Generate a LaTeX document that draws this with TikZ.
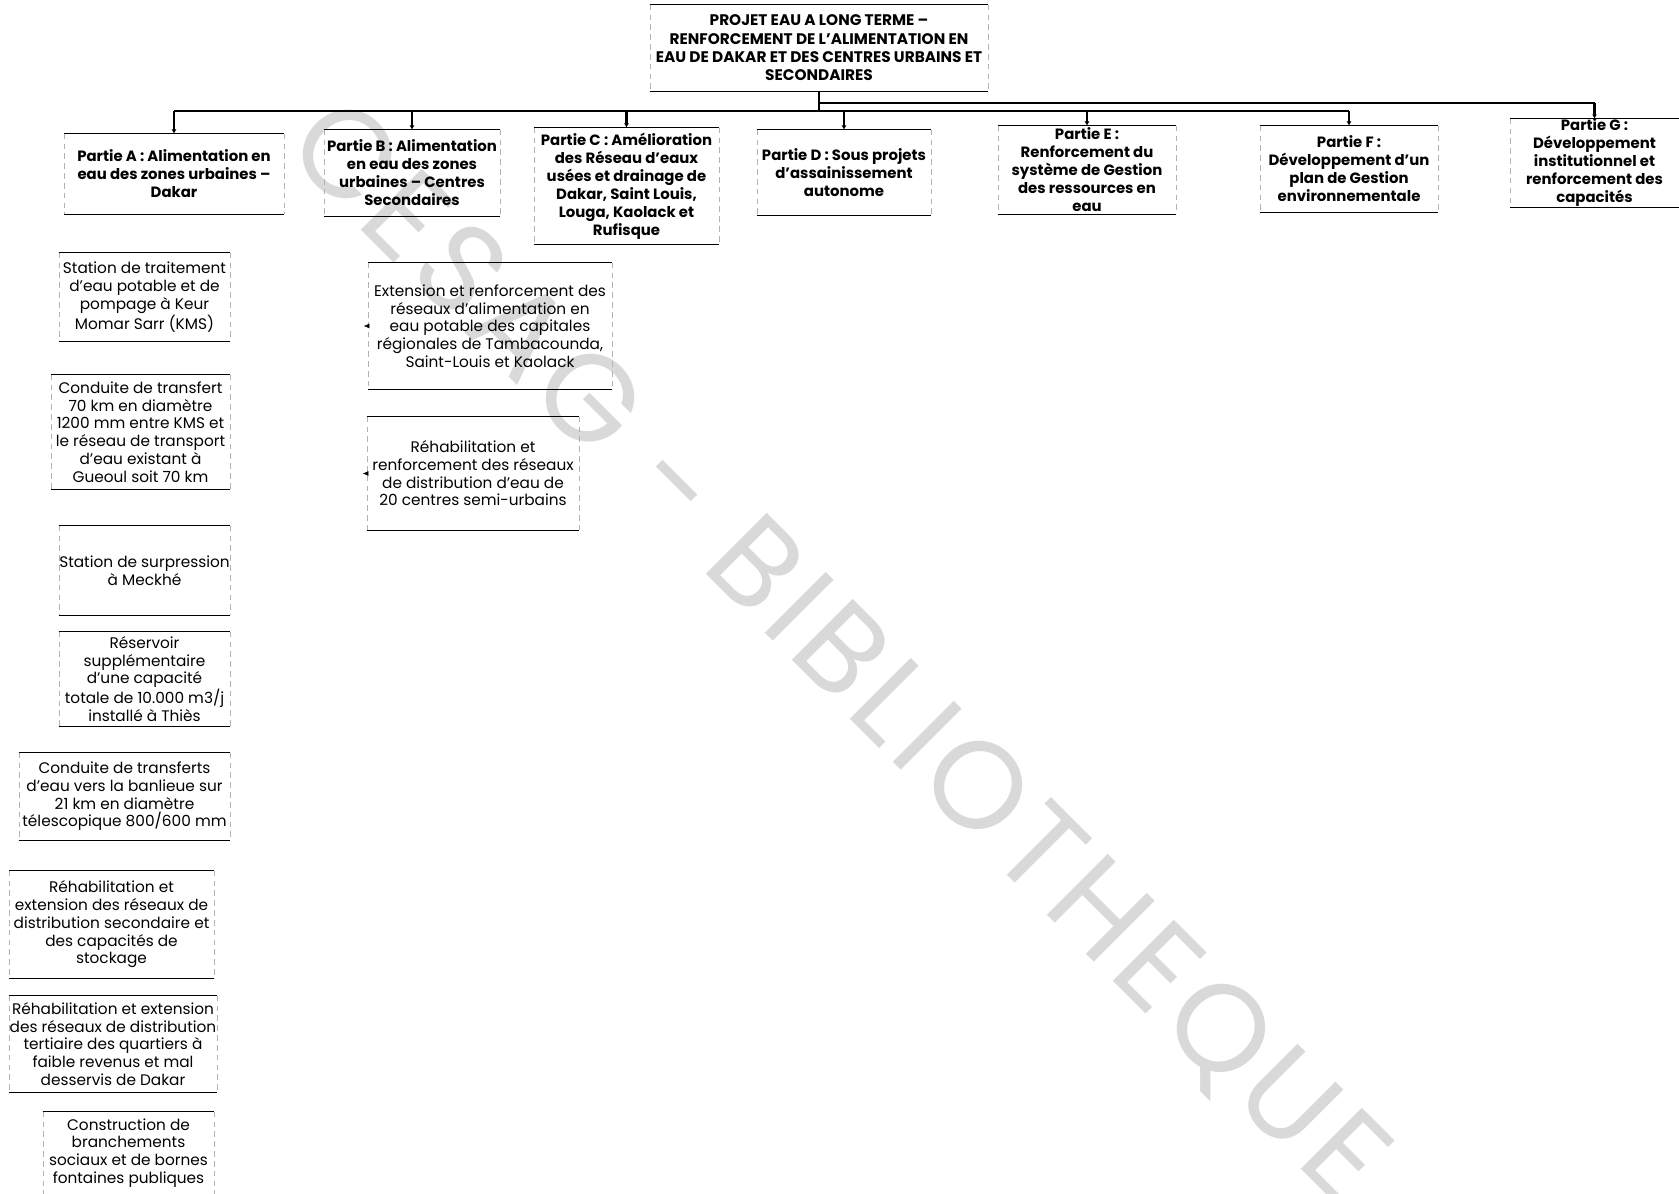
\documentclass[tikz,border=0pt]{standalone}
\usepackage{fontspec}
\setmainfont{Poppins}
\newfontfamily\wmfont[LetterSpace=6]{Poppins}
\usepackage{tikz}
\usetikzlibrary{arrows.meta,calc}
\definecolor{wmgray}{HTML}{D9D9D9}

\begin{document}
\begin{tikzpicture}[x=0.25mm,y=-0.25mm,>=Latex,every node/.style={inner sep=0pt,align=center},
box/.style 2 args={minimum width=#1mm,minimum height=#2mm},
hd/.style={font=\fontsize{10.9}{13}\selectfont\bfseries},
pt/.style={font=\fontsize{10.6}{12.8}\selectfont\bfseries},
sb/.style={font=\fontsize{10.9}{12.6}\selectfont},
rule/.style={line width=0.6pt},side/.style={black!30,line width=0.3pt,dash pattern=on 4pt off 3pt},
bus/.style={line width=1pt},tick/.style={line width=1.5pt,-{Latex[length=3pt,width=3.5pt]}},
tip/.style={line width=0.4pt,-{Latex[length=4pt,width=3.5pt]}}]
\useasboundingbox (0,0) rectangle (1679,1194);
\node[rotate=-45,text=wmgray,font=\wmfont\fontsize{88}{88}\selectfont] (wm) at (836,654) {CESAG - BIBLIOTHEQUE};
\node[hd,box={84.5}{21.5}] (top) at (819,48) {PROJET EAU A LONG TERME --\\RENFORCEMENT DE L'ALIMENTATION EN\\EAU DE DAKAR ET DES CENTRES URBAINS ET\\SECONDAIRES};
\node[pt,box={55}{20}] (pa) at (174,174) {Partie A : Alimentation en\\eau des zones urbaines --\\Dakar};
\node[pt,box={44}{21.5}] (pb) at (412,173) {Partie B : Alimentation\\en eau des zones\\urbaines -- Centres\\Secondaires};
\node[pt,box={46.25}{29}] (pc) at (626.5,186) {Partie C : Amélioration\\des Réseau d'eaux\\usées et drainage de\\Dakar, Saint Louis,\\Louga, Kaolack et\\Rufisque};
\node[pt,box={43.5}{21.25}] (pd) at (844,172.5) {Partie D : Sous projets\\d'assainissement\\autonome};
\node[pt,box={44.5}{22}] (pe) at (1087,170) {Partie E :\\Renforcement du\\système de Gestion\\des ressources en\\eau};
\node[pt,box={44.5}{21.5}] (pf) at (1349,169) {Partie F :\\Développement d'un\\plan de Gestion\\environnementale};
\node[pt,box={42.25}{21.5}] (pg) at (1594.5,163) {Partie G :\\Développement\\institutionnel et\\renforcement des\\capacités};
\node[sb,box={42.75}{22}] (a1) at (144.5,297) {Station de traitement\\d'eau potable et de\\pompage à Keur\\Momar Sarr (KMS)};
\node[sb,box={44.75}{28.5}] (a2) at (140.5,432) {Conduite de transfert\\70 km en diamètre\\1200 mm entre KMS et\\le réseau de transport\\d'eau existant à\\Gueoul soit 70 km};
\node[sb,box={42.75}{22.25}] (a3) at (144.5,570.5) {Station de surpression\\à Meckhé};
\node[sb,box={42.75}{23.5}] (a4) at (144.5,679) {Réservoir\\supplémentaire\\d'une capacité\\totale de 10.000 m3/j\\installé à Thiès};
\node[sb,box={52.75}{21.75}] (a5) at (124.5,796.5) {Conduite de transferts\\d'eau vers la banlieue sur\\21 km en diamètre\\télescopique 800/600 mm};
\node[sb,box={51.25}{26.75}] (a6) at (111.5,924.5) {Réhabilitation et\\extension des réseaux de\\distribution secondaire et\\des capacités de\\stockage};
\node[sb,box={52}{24}] (a7) at (113,1044) {Réhabilitation et extension\\des réseaux de distribution\\tertiaire des quartiers à\\faible revenus et mal\\desservis de Dakar};
\node[sb,box={42.75}{20.5}] (a8) at (128.5,1153) {Construction de\\branchements\\sociaux et de bornes\\fontaines publiques};
\node[sb,box={61}{31.5}] (b1) at (490,326) {Extension et renforcement des\\réseaux d'alimentation en\\eau potable des capitales\\régionales de Tambacounda,\\Saint-Louis et Kaolack};
\node[sb,box={53}{28.25}] (b2) at (473,473.5) {Réhabilitation et\\renforcement des réseaux\\de distribution d'eau de\\20 centres semi-urbains};
\foreach \n in {top,pa,pb,pc,pd,pe,pf,pg,a1,a2,a3,a4,a5,a6,a7,a8,b1,b2}{
\draw[side] (\n.north west) -- (\n.south west) (\n.north east) -- (\n.south east);
\draw[rule] (\n.north west) -- (\n.north east) (\n.south west) -- (\n.south east);}
\coordinate (lowbus) at (0,111);\coordinate (upbus) at (0,103);
\draw[bus] (top.south) -- (top.south |- lowbus);
\draw[bus] (pa.north |- lowbus) -- (pf.north |- lowbus);
\draw[bus] (top.south |- upbus) -- (pg.north |- upbus);
\foreach \n in {pa,pb,pc,pd,pe,pf}{\draw[tick] (\n.north |- lowbus) -- (\n.north);}
\draw[tick] (pg.north |- upbus) -- (pg.north);
\coordinate (b1x) at ($(b1.west)+(-4,0)$);\coordinate (b2x) at ($(b2.west)+(-4,0)$);
\draw[tip] (b1.west) -- (b1x);\draw[tip] (b2.west) -- (b2x);
\end{tikzpicture}
\end{document}
